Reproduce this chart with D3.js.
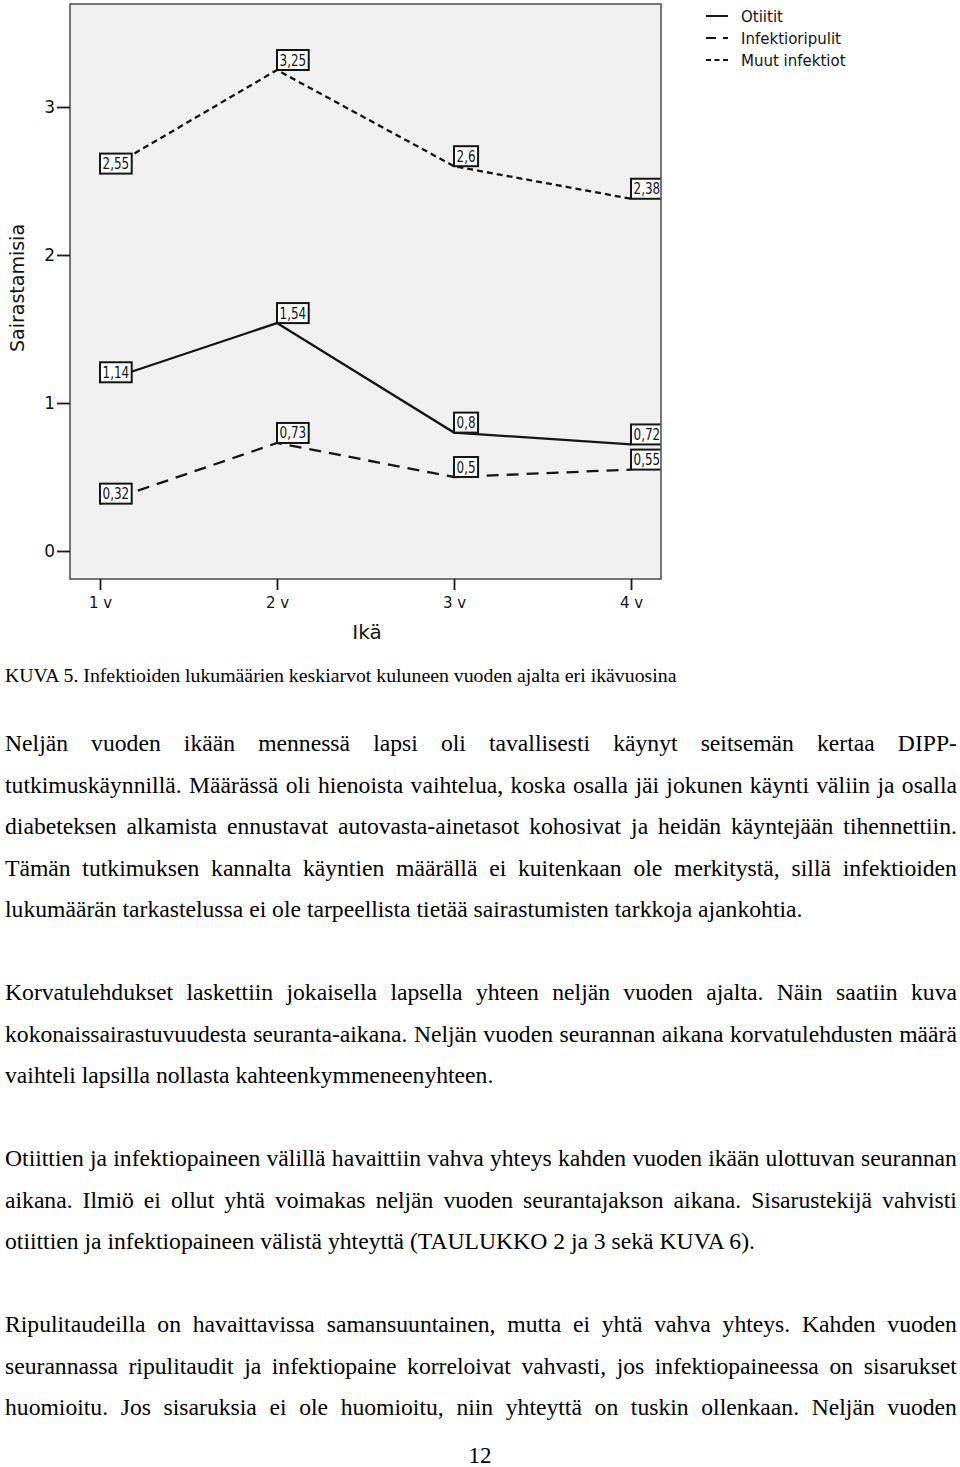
<!DOCTYPE html>
<html><head><meta charset="utf-8">
<script src="https://cdn.jsdelivr.net/npm/d3@7"></script>
<style>body{margin:0;background:#fff}</style>
</head><body>
<svg id="c" width="960" height="1467" xmlns="http://www.w3.org/2000/svg"></svg>
<script>
// ---- data ----
const ages = ["1 v", "2 v", "3 v", "4 v"];
const otiitit = [1.14, 1.54, 0.8, 0.72];
const infektioripulit = [0.32, 0.73, 0.5, 0.55];
const muutInfektiot = [2.55, 3.25, 2.6, 2.38];
const yTicks = [0, 1, 2, 3];
const seriesNames = ["Otiitit", "Infektioripulit", "Muut infektiot"];
const yTitle = "Sairastamisia";
const xTitle = "Ikä";
const caption = "KUVA 5. Infektioiden lukumäärien keskiarvot kuluneen vuoden ajalta eri ikävuosina";
const paragraphs = [
  ["Neljän vuoden ikään mennessä lapsi oli tavallisesti käynyt seitsemän kertaa DIPP-",
   "tutkimuskäynnillä. Määrässä oli hienoista vaihtelua, koska osalla jäi jokunen käynti väliin ja osalla",
   "diabeteksen alkamista ennustavat autovasta-ainetasot kohosivat ja heidän käyntejään tihennettiin.",
   "Tämän tutkimuksen kannalta käyntien määrällä ei kuitenkaan ole merkitystä, sillä infektioiden",
   "lukumäärän tarkastelussa ei ole tarpeellista tietää sairastumisten tarkkoja ajankohtia."],
  ["Korvatulehdukset laskettiin jokaisella lapsella yhteen neljän vuoden ajalta. Näin saatiin kuva",
   "kokonaissairastuvuudesta seuranta-aikana. Neljän vuoden seurannan aikana korvatulehdusten määrä",
   "vaihteli lapsilla nollasta kahteenkymmeneenyhteen."],
  ["Otiittien ja infektiopaineen välillä havaittiin vahva yhteys kahden vuoden ikään ulottuvan seurannan",
   "aikana. Ilmiö ei ollut yhtä voimakas neljän vuoden seurantajakson aikana. Sisarustekijä vahvisti",
   "otiittien ja infektiopaineen välistä yhteyttä (TAULUKKO 2 ja 3 sekä KUVA 6)."],
  ["Ripulitaudeilla on havaittavissa samansuuntainen, mutta ei yhtä vahva yhteys. Kahden vuoden",
   "seurannassa ripulitaudit ja infektiopaine korreloivat vahvasti, jos infektiopaineessa on sisarukset",
   "huomioitu. Jos sisaruksia ei ole huomioitu, niin yhteyttä on tuskin ollenkaan. Neljän vuoden"]
];
const lastLineLeft = [true, true, true, false];
const pageNumber = "12";

// ---- chart ----
const svg = d3.select("#c");
const plot = {x0: 70, y0: 4, x1: 661, y1: 579};
const x = d3.scalePoint().domain(ages).range([100, 631]);
const y = d3.scaleLinear().domain([0, 3]).range([551, 107]);
const sans = "'DejaVu Sans', Verdana, sans-serif";
const ink = "#141414";

svg.append("defs").append("clipPath").attr("id", "clip")
  .append("rect").attr("x", plot.x0).attr("y", plot.y0)
  .attr("width", plot.x1 - plot.x0).attr("height", plot.y1 - plot.y0);

svg.append("rect").attr("x", plot.x0).attr("y", plot.y0)
  .attr("width", plot.x1 - plot.x0).attr("height", plot.y1 - plot.y0)
  .attr("fill", "#f0f0f0");

const series = [
  {name: seriesNames[0], values: otiitit, dash: null},
  {name: seriesNames[1], values: infektioripulit, dash: "12,8"},
  {name: seriesNames[2], values: muutInfektiot, dash: "6,4"}
];

const line = d3.line().x((d, i) => x(ages[i])).y(d => y(d));
const gPlot = svg.append("g").attr("clip-path", "url(#clip)");
series.forEach(s => {
  gPlot.append("path").attr("d", line(s.values)).attr("fill", "none")
    .attr("stroke", ink).attr("stroke-width", 2.3)
    .attr("stroke-dasharray", s.dash);
});

const fmt = v => String(v).replace(".", ",");
const labK = 0.8;
series.forEach(s => {
  s.values.forEach((v, i) => {
    const px = x(ages[i]), py = y(v);
    const g = gPlot.append("g");
    const r = g.append("rect");
    const tg = g.append("g").attr("transform", `translate(${px + 2.5},${py - 4.5}) scale(${labK},1)`);
    const t = tg.append("text").attr("x", 0).attr("y", 0)
      .attr("font-family", sans).attr("font-size", 15).attr("fill", ink).text(fmt(v));
    const w = t.node().getComputedTextLength() * labK;
    r.attr("x", px).attr("y", py - 20).attr("width", w + 5).attr("height", 20)
      .attr("fill", "#fff").attr("stroke", ink).attr("stroke-width", 2);
  });
});

svg.append("rect").attr("x", plot.x0).attr("y", plot.y0)
  .attr("width", plot.x1 - plot.x0).attr("height", plot.y1 - plot.y0)
  .attr("fill", "none").attr("stroke", "#555").attr("stroke-width", 1.6);

const yAxis = svg.append("g").attr("transform", `translate(${plot.x0},0)`)
  .call(d3.axisLeft(y).tickValues(yTicks).tickSize(13).tickPadding(2).tickFormat(d3.format("d")));
const xAxis = svg.append("g").attr("transform", `translate(0,${plot.y1})`)
  .call(d3.axisBottom(x).tickSize(11).tickPadding(7));
[yAxis, xAxis].forEach(a => {
  a.select(".domain").remove();
  a.selectAll("line").attr("stroke", "#1a1a1a").attr("stroke-width", 1.8);
  a.selectAll("text").attr("font-family", sans).attr("fill", ink);
});
yAxis.selectAll("text").attr("font-size", 17);
xAxis.selectAll("text").attr("font-size", 15);

svg.append("text").attr("transform", "translate(24,288) rotate(-90)")
  .attr("text-anchor", "middle").attr("font-family", sans).attr("font-size", 19)
  .attr("fill", ink).text(yTitle);
svg.append("text").attr("x", 367).attr("y", 639).attr("text-anchor", "middle")
  .attr("font-family", sans).attr("font-size", 20).attr("fill", ink).text(xTitle);

// legend
const leg = svg.append("g");
series.forEach((s, i) => {
  const ly = 16 + i * 22;
  leg.append("line").attr("x1", 706).attr("x2", 728).attr("y1", ly).attr("y2", ly)
    .attr("stroke", ink).attr("stroke-width", 2)
    .attr("stroke-dasharray", i === 1 ? "10,7" : (i === 2 ? "5,3.5" : null));
  leg.append("text").attr("x", 741).attr("y", ly + 5.5).attr("font-family", sans)
    .attr("font-size", 15).attr("fill", ink).text(s.name);
});

// ---- body text ----
const serif = "'Liberation Serif', 'Times New Roman', serif";
const F = 23;
const body = svg.append("g").attr("font-family", serif).attr("font-size", F).attr("fill", "#000");
function measure(str, size) {
  const t = body.append("text").attr("font-size", size).attr("xml:space", "preserve").text(str);
  const w = t.node().getComputedTextLength();
  t.remove();
  return w;
}
const capSize = 19.5;
const capK = 672 / measure(caption, capSize);
body.append("text").attr("transform", `translate(5,682) scale(${capK},1)`)
  .attr("font-size", capSize).text(caption);

const k = 798 / measure(paragraphs[0][4], F);
const left = 5, width = 952;
const base0 = 751, step = 41.5;
let row = 0;
paragraphs.forEach((p, pi) => {
  p.forEach((ln, li) => {
    const by = base0 + row * step;
    const g = body.append("g").attr("transform", `translate(${left},${by}) scale(${k},1)`);
    const isLast = li === p.length - 1;
    if (isLast && lastLineLeft[pi]) {
      g.append("text").attr("x", 0).attr("y", 0).text(ln);
    } else {
      const words = ln.split(" ");
      const ws = words.map(w => measure(w, F));
      const tot = d3.sum(ws);
      const gap = (width / k - tot) / (words.length - 1);
      let cx = 0;
      words.forEach((w, wi) => {
        g.append("text").attr("x", cx).attr("y", 0).text(w);
        cx += ws[wi] + gap;
      });
    }
    row++;
  });
  row++;
});
body.append("text").attr("x", 480).attr("y", 1463).attr("text-anchor", "middle")
  .attr("font-size", F).text(pageNumber);
</script>
</body></html>
